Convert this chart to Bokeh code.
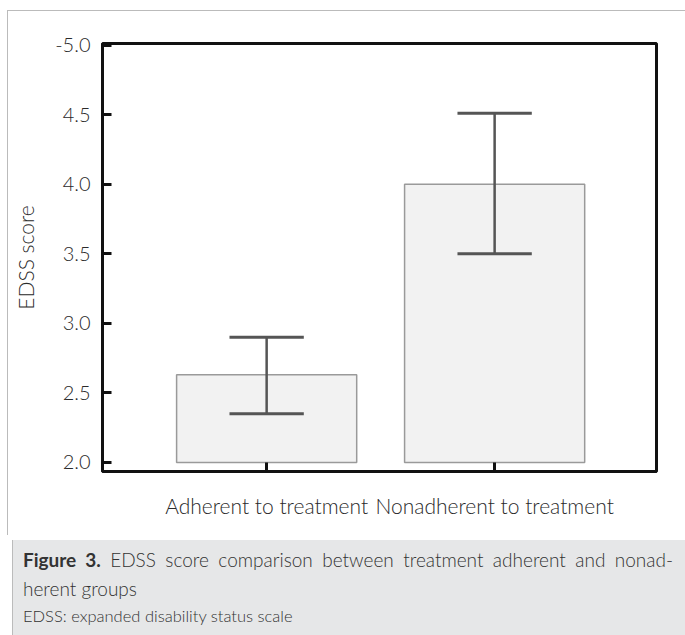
from bokeh.plotting import figure
from bokeh.models import Range1d, FixedTicker, Div
from bokeh.layouts import column
from bokeh.embed import file_html
from bokeh.resources import INLINE

categories = ["Adherent to treatment", "Nonadherent to treatment"]
means = [2.63, 4.00]
lower = [2.35, 3.50]
upper = [2.90, 4.51]
y_ticks = [2.0, 2.5, 3.0, 3.5, 4.0, 4.5, 5.0]
y_tick_labels = ["2.0", "2.5", "3.0", "3.5", "4.0", "4.5", "-5.0"]

xpos = [1, 2]
FONT = "Lato Light"

p = figure(width=678, height=525, output_backend="svg", toolbar_location=None,
           x_range=Range1d(0.28, 2.71), y_range=Range1d(1.935, 5.012),
           min_border_left=94, min_border_right=30, min_border_top=32, min_border_bottom=65)
p.styles = {"border-left": "1px solid #bbbbbb", "border-top": "1px solid #bbbbbb", "box-sizing": "border-box"}
p.grid.visible = False
p.outline_line_color = "#111111"
p.outline_line_width = 3

p.vbar(x=xpos, top=means, bottom=2.0, width=0.79, fill_color="#f2f2f2", line_color="#9a9a9a", line_width=1.5)
p.segment(x0=xpos, y0=lower, x1=xpos, y1=upper, line_color="#555555", line_width=2.5)
cap = 0.163
p.segment(x0=[x - cap for x in xpos], y0=lower, x1=[x + cap for x in xpos], y1=lower, line_color="#555555", line_width=3)
p.segment(x0=[x - cap for x in xpos], y0=upper, x1=[x + cap for x in xpos], y1=upper, line_color="#555555", line_width=3)

for ax in (p.xaxis[0], p.yaxis[0]):
    ax.axis_line_color = "#111111"
    ax.axis_line_width = 3
    ax.major_tick_line_color = "#111111"
    ax.major_tick_line_width = 3
    ax.major_tick_in = 9
    ax.major_tick_out = 0
    ax.minor_tick_line_color = None
    ax.major_label_text_font = FONT
    ax.major_label_text_font_size = "20px"
    ax.major_label_text_color = "#2a2a2a"

p.xaxis.ticker = FixedTicker(ticks=xpos)
p.xaxis.major_label_overrides = {x: c for x, c in zip(xpos, categories)}
p.xaxis.major_label_text_font_size = "21px"
p.xaxis.major_label_standoff = 21

p.yaxis.ticker = FixedTicker(ticks=y_ticks)
p.yaxis.major_label_overrides = {t: l for t, l in zip(y_ticks, y_tick_labels)}
p.yaxis.major_label_standoff = 12
p.yaxis.axis_label = "EDSS score"
p.yaxis.axis_label_text_font = FONT
p.yaxis.axis_label_text_font_size = "21px"
p.yaxis.axis_label_text_font_style = "normal"
p.yaxis.axis_label_text_color = "#2a2a2a"
p.yaxis.axis_label_standoff = 14

caption = Div(
    text=('<div style="font-size:19px;line-height:29px;color:#333;text-align:justify;text-align-last:justify;width:650px;">'
          '<span style="font-family:Lato;font-weight:bold;">Figure 3.</span> EDSS score comparison between treatment adherent and nonad-</div>'
          '<div style="font-size:19px;line-height:29px;color:#333;">herent groups</div>'
          '<div style="font-size:16.5px;line-height:27px;color:#333;">EDSS: expanded disability status scale</div>'),
    width=678, height=100,
    styles={"background-color": "#e6e7e8", "border-left": "1px solid #bbbbbb", "font-family": "Lato Light",
            "padding": "5px 0 0 10px", "box-sizing": "border-box"},
)

layout = column(p, caption, spacing=0, margin=(10, 0, 0, 7))
open("out.html", "w").write(file_html(layout, INLINE))
